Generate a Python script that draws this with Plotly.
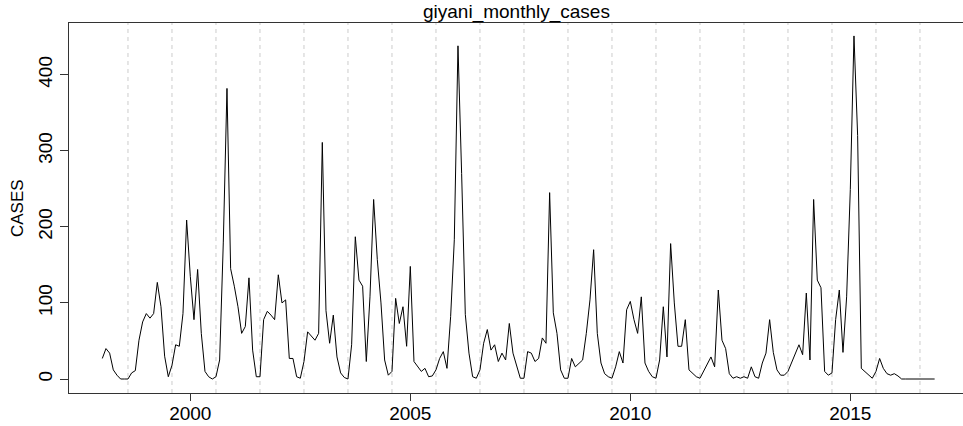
import plotly.graph_objects as go

# Monthly cases, Jan 1998 .. Dec 2016
start_year = 1998
cases_1998 = [27, 40, 34, 12, 5, 0, 0, 0, 8, 11, 51, 75]
cases_1999 = [86, 80, 86, 127, 95, 30, 3, 18, 45, 43, 86, 209]
cases_2000 = [135, 78, 144, 60, 10, 3, 0, 3, 25, 180, 382, 145]
cases_2001 = [122, 95, 60, 69, 133, 38, 3, 3, 78, 89, 84, 78]
cases_2002 = [137, 100, 104, 27, 27, 3, 1, 23, 62, 56, 51, 60]
cases_2003 = [311, 90, 47, 84, 29, 8, 2, 0, 45, 187, 130, 122]
cases_2004 = [23, 108, 236, 157, 100, 25, 5, 10, 106, 73, 95, 43]
cases_2005 = [148, 23, 16, 10, 14, 3, 4, 12, 27, 36, 14, 82]
cases_2006 = [183, 438, 270, 85, 34, 3, 1, 12, 47, 65, 38, 45]
cases_2007 = [23, 34, 25, 73, 34, 16, 1, 1, 36, 34, 23, 27]
cases_2008 = [54, 47, 245, 87, 60, 12, 1, 1, 27, 16, 21, 25]
cases_2009 = [60, 104, 170, 60, 21, 7, 3, 1, 16, 36, 21, 91]
cases_2010 = [102, 78, 60, 108, 21, 10, 3, 1, 25, 95, 29, 178]
cases_2011 = [100, 43, 43, 78, 12, 7, 3, 1, 10, 18, 29, 16]
cases_2012 = [117, 51, 40, 7, 1, 3, 1, 3, 1, 16, 3, 1]
cases_2013 = [21, 34, 78, 35, 12, 5, 5, 10, 21, 34, 45, 32]
cases_2014 = [113, 25, 236, 130, 120, 10, 5, 8, 78, 117, 35, 108]
cases_2015 = [249, 451, 320, 14, 10, 5, 1, 10, 27, 14, 7, 5]
cases_2016 = [7, 4, 0, 0, 0, 0, 0, 0, 0, 0, 0, 0]

yearly = [cases_1998, cases_1999, cases_2000, cases_2001, cases_2002,
          cases_2003, cases_2004, cases_2005, cases_2006, cases_2007,
          cases_2008, cases_2009, cases_2010, cases_2011, cases_2012,
          cases_2013, cases_2014, cases_2015, cases_2016]
cases = [v for yr in yearly for v in yr]
time = [start_year + i / 12 for i in range(len(cases))]

x_ticks = [2000, 2005, 2010, 2015]
y_ticks = [0, 100, 200, 300, 400]
grid_years = list(range(1998, 2017))  # dashed reference lines at August

title_text = "giyani_monthly_cases"
y_label = "CASES"

FONT = "Liberation Sans, Arial, Helvetica, sans-serif"

fig = go.Figure()
fig.add_trace(go.Scatter(x=time, y=cases, mode="lines",
                         line=dict(color="black", width=1),
                         showlegend=False, hoverinfo="skip"))

for yr in grid_years:
    fig.add_shape(type="line", xref="x", yref="paper",
                  x0=yr + 7 / 12, x1=yr + 7 / 12, y0=0, y1=1,
                  line=dict(color="#cccccc", width=1, dash="4px,4px"),
                  layer="below")

fig.add_annotation(text=title_text, xref="paper", yref="paper",
                   x=0.5, y=1, xanchor="center", yanchor="bottom",
                   yshift=-2, showarrow=False,
                   font=dict(family=FONT, size=19, color="black"))
fig.add_annotation(text=y_label, xref="paper", yref="paper",
                   x=0, y=0.5, xanchor="center", yanchor="middle",
                   xshift=-52, textangle=-90, showarrow=False,
                   font=dict(family=FONT, size=17, color="black"))

fig.update_layout(
    template="none",
    width=963, height=426,
    margin=dict(l=69, r=0, t=23, b=33, pad=0, autoexpand=False),
    paper_bgcolor="white", plot_bgcolor="white",
    font=dict(family=FONT, size=19, color="black"),
    xaxis=dict(range=[1997.243, 1997.243 + 894 / 44.0], automargin=False,
               tickmode="array", tickvals=x_ticks,
               ticks="outside", ticklen=7, tickcolor="#333", tickwidth=1,
               ticklabelstandoff=-4,
               showline=True, linecolor="#333", linewidth=1, mirror=True,
               showgrid=False, zeroline=False,
               tickfont=dict(family=FONT, size=19, color="black")),
    yaxis=dict(range=[-18.4, 468], automargin=False,
               tickmode="array", tickvals=y_ticks,
               ticks="outside", ticklen=8, tickcolor="#333", tickwidth=1,
               tickangle=-90,
               showline=True, linecolor="#333", linewidth=1, mirror=False,
               showgrid=False, zeroline=False,
               tickfont=dict(family=FONT, size=19, color="black")),
)

fig.write_html(
    "out.html",
    config={"displayModeBar": False, "staticPlot": True},
    post_script="document.body.style.margin='0';document.body.style.overflow='hidden';",
)
